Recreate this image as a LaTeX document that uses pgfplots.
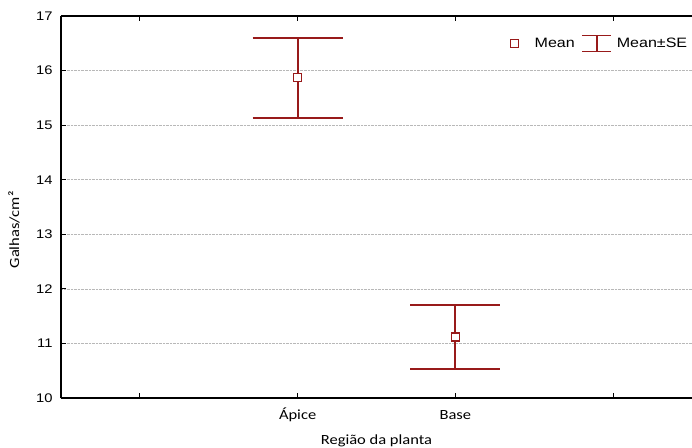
\documentclass[border=0pt]{standalone}
\usepackage{fontspec}
\setmainfont[FakeStretch=1.18]{Liberation Sans}
\newfontfamily\calfont[FakeStretch=1.18]{Carlito}
\usepackage{pgfplots}
\pgfplotsset{compat=1.18}
\definecolor{dred}{HTML}{981A1A}

\begin{document}
\begin{tikzpicture}
\begin{axis}[
  scale only axis, width=631bp, height=382bp,
  xmin=-0.5, xmax=3.5, ymin=10, ymax=17,
  xtick={0,1,2,3}, xticklabels={,Ápice,Base,},
  ytick={10,...,17},
  axis x line=box, axis y line=left, axis line style={-, line width=1.1bp, black},
  tick align=inside, major tick length=5bp, tick style={black, line width=0.9bp},
  ymajorgrids, grid style={densely dotted, black!28, line width=0.55bp},
  /pgf/number format/assume math mode=true,
  yticklabel style={font=\fontsize{12.5bp}{14bp}\selectfont, anchor=east, xshift=-5bp},
  xticklabel style={font=\calfont\fontsize{14bp}{16bp}\selectfont, anchor=center, yshift=-17bp},
  xlabel={Região da planta},
  xlabel style={font=\calfont\fontsize{14bp}{16bp}\selectfont, at={(axis description cs:0.5,-0.112)}, anchor=center},
  ylabel={Galhas/cm²},
  ylabel style={font=\calfont\fontsize{14bp}{16bp}\selectfont, at={(axis description cs:-0.0745,0.44)}, anchor=center},
  legend style={at={(axis description cs:0.7036,0.928)}, anchor=west, draw=none, fill=none,
    inner sep=0pt, font=\fontsize{13.6bp}{15bp}\selectfont, nodes={inner sep=1.5bp}, /tikz/column sep=0pt},
  legend columns=2,
]
\addlegendimage{legend image code/.code={\path[draw=none, fill=none] (0bp,-8bp) rectangle (28bp,8bp);
  \draw[dred, fill=white, line width=1.3bp] (5bp,-4bp) rectangle (13bp,4bp);}}
\addlegendentry{Mean}
\addlegendimage{legend image code/.code={\path[draw=none, fill=none] (0bp,-8bp) rectangle (39bp,8bp);
  \draw[dred, line width=1.5bp] (20.5bp,-8bp) -- (20.5bp,8bp) (6bp,-8bp) -- (35bp,-8bp) (6bp,8bp) -- (35bp,8bp);}}
\addlegendentry{Mean±SE}

% Mean +- SE: whiskers and caps
\addplot[draw=dred, line width=1.9bp, forget plot] coordinates {(1,15.13) (1,16.60)};
\addplot[draw=dred, line width=1.7bp, forget plot] coordinates {(0.715,16.60) (1.285,16.60)};
\addplot[draw=dred, line width=1.7bp, forget plot] coordinates {(0.715,15.13) (1.285,15.13)};
\addplot[draw=dred, line width=1.9bp, forget plot] coordinates {(2,10.53) (2,11.71)};
\addplot[draw=dred, line width=1.7bp, forget plot] coordinates {(1.715,11.71) (2.285,11.71)};
\addplot[draw=dred, line width=1.7bp, forget plot] coordinates {(1.715,10.53) (2.285,10.53)};
% means
\addplot[only marks, mark=square*, mark size=4bp,
  mark options={fill=white, draw=dred, line width=1.4bp, solid}, forget plot]
  coordinates {(1,15.87) (2,11.12)};
\end{axis}
\pgfresetboundingbox
\path ([xshift=-61bp,yshift=-50bp]current axis.south west) rectangle ([yshift=16bp]current axis.north east);
\end{tikzpicture}
\end{document}
